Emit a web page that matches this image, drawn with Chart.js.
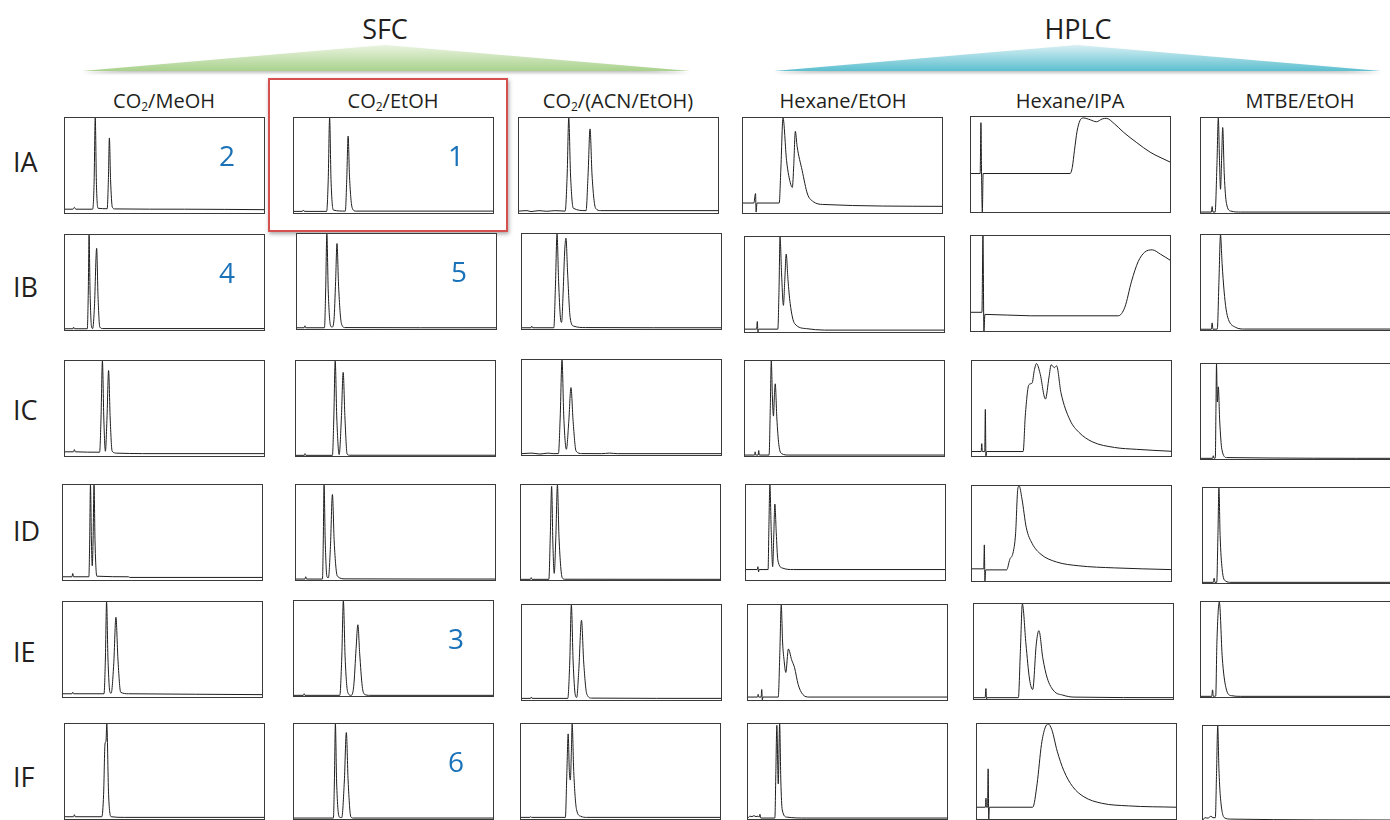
<!DOCTYPE html>
<html>
<head>
<meta charset="utf-8">
<script src="https://cdn.jsdelivr.net/npm/chart.js@4.4.1/dist/chart.umd.min.js"></script>
<style>
  body { margin: 0; background: #fff; width: 1390px; height: 820px; overflow: hidden; position: relative;
         font-family: 'Open Sans', sans-serif; color: #231f20; }
  .panel { position: absolute; width: 201px; height: 97px; border: 1px solid #3a3a3a; box-sizing: border-box; background: #fff; }
  .panel canvas { display: block; }
  .lbl { position: absolute; white-space: nowrap; transform: translate(-50%, -50%); line-height: 1; }
  .grp { font-size: 27px; }
  .col { font-size: 20px; }
  .col sub { font-size: 12px; vertical-align: -3px; line-height: 0; }
  .row { font-size: 27px; transform: translate(0, -50%); }
  .num { font-size: 28px; color: #1a72b9; }
  #redBox { position: absolute; left: 268px; top: 78px; width: 240px; height: 154px; box-sizing: border-box;
            border: 2px solid #d6504f; box-shadow: 1px 2px 4px rgba(0,0,0,0.35); }
  svg { position: absolute; left: 0; top: 0; }
</style>
</head>
<body>
<svg width="1390" height="90">
  <defs>
    <linearGradient id="gGreen" x1="0" y1="0" x2="0" y2="1">
      <stop offset="0" stop-color="#eaf4e0"/>
      <stop offset="1" stop-color="#a9d18c"/>
    </linearGradient>
    <linearGradient id="gBlue" x1="0" y1="0" x2="0" y2="1">
      <stop offset="0" stop-color="#d8f0f4"/>
      <stop offset="1" stop-color="#5cbfcf"/>
    </linearGradient>
    <filter id="shadow" x="-5%" y="-20%" width="110%" height="160%">
      <feDropShadow dx="0" dy="2" stdDeviation="1.5" flood-color="#000" flood-opacity="0.25"/>
    </filter>
  </defs>
  <polygon points="82,71 385,45 690,71" fill="url(#gGreen)" filter="url(#shadow)"/>
  <polygon points="774,71 1077,45 1381,71" fill="url(#gBlue)" filter="url(#shadow)"/>
</svg>
<div id="root"></div>
<script>
'use strict';

// ---- texts ----
const groupTitles = ['SFC', 'HPLC'];
const columnLabels = ['CO<sub>2</sub>/MeOH', 'CO<sub>2</sub>/EtOH', 'CO<sub>2</sub>/(ACN/EtOH)',
                      'Hexane/EtOH', 'Hexane/IPA', 'MTBE/EtOH'];
const rowLabels = ['IA', 'IB', 'IC', 'ID', 'IE', 'IF'];
// ranking numbers: [row, column, label]
const rankLabels = [[0, 0, '2'], [0, 1, '1'], [1, 0, '4'], [1, 1, '5'], [4, 1, '3'], [5, 1, '6']];

// ---- chromatograms: [time %, signal %] ----
const tracesIA = [
  [[0,4],[4,4],[4.7,6],[5.4,4],[13.9,4],[14.6,30],[15.2,100],[15.8,30],[16.6,5],[21.2,4.5],[21.8,35],[22.3,79],[22.9,35],[23.8,6],[25,4.3],[60,4],[100,3.5]],
  [[0,1.7],[4.2,1.7],[4.7,3.2],[5.2,1.7],[16.4,1.7],[17.2,35],[17.9,100],[18.6,35],[19.8,3],[25.8,2],[26.5,35],[27.2,81],[27.9,38],[29.3,5],[31,2],[100,2]],
  [[0,2],[4,2.5],[6,1.5],[10,2.5],[14,1.8],[18,2.5],[23.2,2],[24.2,40],[25,100],[25.9,40],[27.3,5],[33.7,2.5],[34.7,40],[35.7,88.5],[36.7,40],[38.5,5],[41,2.5],[100,2.5]],
  [[0,10.5],[5.5,10.5],[6.0,18],[6.3,20.5],[6.6,1],[7.0,10.5],[18.2,10.5],[19.0,45],[20.1,100],[21.9,55],[24,30],[24.8,27],[25.5,50],[26.3,86],[27.2,70],[29.7,45],[32.4,20],[35.3,12],[40,9],[100,7]],
  [[0,40.5],[4.6,40.5],[5.0,94],[5.3,40],[5.7,0],[6.1,40.5],[49.8,40.5],[50.9,47],[52,65],[53.3,85],[54.7,96],[56.5,99],[60,97],[63,95],[66,98],[68,98.6],[72,93],[76.6,84],[83.3,73],[90,63],[100,52.6]],
  [[0,1],[5.2,1],[5.6,6.8],[6.0,1],[7.1,1],[8.0,50],[8.7,100],[9.3,55],[9.8,25],[10.4,60],[10.9,90],[11.7,40],[12.8,10],[15,2],[20,1],[100,1]]
];
const tracesIB = [
  [[0,1.3],[4,1.3],[4.3,3],[4.7,1.3],[11.2,1.3],[11.7,40],[12.1,100],[12.6,40],[13.3,4],[13.9,1.5],[14.8,25],[15.9,86],[16.6,35],[17.5,3],[19,1.5],[100,1.5]],
  [[0,1.3],[3.6,1.3],[4,3.4],[4.4,1.3],[13.8,1.3],[14.4,40],[15,100],[15.7,40],[16.8,4],[17.6,2],[18.6,10],[19.4,50],[20.1,90],[20.9,45],[22.3,6],[24,1.5],[100,1.3]],
  [[0,1.3],[4.5,1.3],[4.9,3],[5.3,1.3],[16,1.3],[16.8,45],[17.6,100],[18.4,50],[19.3,12],[19.9,7],[20.7,40],[21.4,80],[22.1,95.6],[22.9,60],[24.2,12],[26,3],[32,1.5],[100,1.3]],
  [[0,3],[5.8,3],[6.2,11],[6.5,0],[6.9,3],[16.5,3],[17.1,45],[17.6,100],[18.4,60],[19.3,28],[20,55],[20.7,82],[21.6,55],[22.7,30],[24.9,9],[31,3.5],[40,2],[100,2]],
  [[0,19.7],[5.5,19.7],[6.0,100],[6.5,0],[7.0,17.5],[30,16],[74,16],[77.3,25],[80.7,52.5],[84,73],[87.3,83],[91.1,85.4],[95.1,81],[100,74.6]],
  [[0,0.8],[5.2,0.8],[5.6,7.5],[6.0,0.8],[8.2,1],[9.0,50],[9.8,100],[10.6,70],[11.6,41],[12.6,22],[13.8,11],[17.2,3],[22,1],[100,1]]
];
const tracesIC = [
  [[0,4.4],[4.3,4.4],[4.7,6.8],[5.2,4.4],[17.4,4],[18.1,40],[18.8,100],[19.5,40],[20.3,5],[21.1,40],[21.9,90],[22.7,40],[23.7,5],[26,3],[39,2.5],[100,2.5]],
  [[0,0.7],[4.2,0.7],[4.5,2.5],[4.9,0.7],[18.3,0.7],[19,40],[19.7,100],[20.5,40],[21.7,1.5],[22.8,40],[23.7,88],[24.6,40],[25.7,2],[27,0.8],[100,0.8]],
  [[0,1.4],[5,2],[9,1],[13,2],[16,1.4],[18.3,1.5],[19.2,40],[20.1,100],[21,40],[22.3,6],[23.5,35],[24.6,71],[25.7,35],[27.2,4],[30,1.5],[40,1.4],[44,2],[48,1.4],[100,1.4]],
  [[0,1],[4.8,1],[5.1,4.4],[5.4,1],[6.6,1],[6.9,5.8],[7.2,1],[12.1,1],[12.7,50],[13.2,100],[13.8,60],[14.3,42],[14.8,65],[15.2,76],[16,40],[17,12],[18.5,2.4],[22,1],[100,1]],
  [[0,4.7],[4.6,4.7],[4.9,13],[5.2,4.7],[6.4,4.7],[6.7,49],[7.0,0],[7.4,4.7],[25.7,4.7],[26.8,43],[28.6,75],[30.2,76.7],[31.3,90],[32.4,97.3],[34.2,87],[36.9,60],[38.7,83],[39.8,96],[41.4,93],[42.5,95],[44.7,66.7],[49.2,38],[53.7,25],[60.4,15],[71.6,9],[82.8,7],[100,5]],
  [[0,0.7],[5.8,0.7],[6.2,3.4],[6.6,0.7],[7.2,1],[7.5,50],[7.8,100],[8.2,60],[8.7,76],[9.4,40],[10.5,10],[12.9,1.5],[100,0.7]]
];
const tracesID = [
  [[0,3.4],[4.5,3.4],[4.9,6.8],[5.3,3.4],[13,3.4],[13.4,40],[13.8,100],[14.3,40],[14.7,15],[15.1,40],[15.6,100],[16.1,40],[17,4],[33,3.4],[33.5,2.7],[100,2.7]],
  [[0,1],[4.5,1],[4.9,3.4],[5.3,1],[13.3,1],[13.7,40],[14.1,100],[14.7,40],[15.6,3],[16.3,2.5],[17.3,35],[18.3,90],[19.2,40],[20.8,4],[24.6,1.2],[100,1]],
  [[0,0.7],[4.7,0.7],[5.1,2.5],[5.5,0.7],[14,0.7],[14.7,45],[15.4,98.6],[16.0,40],[16.7,7],[17.5,45],[18.3,100],[19.1,45],[20.8,2],[22,0.8],[100,0.7]],
  [[0,11],[5.6,11],[6,14],[6.3,8.5],[6.6,11],[11.1,11],[11.5,55],[12,100],[12.7,50],[13.4,14],[14,50],[14.5,80],[15.2,50],[16,21],[18.3,12.6],[23.8,11],[100,11]],
  [[0,12.8],[5.9,12.8],[6.2,38],[6.5,0],[6.9,11.7],[17.4,11.7],[19,22.8],[20.6,29.5],[21.9,49.7],[23,96.6],[23.7,100],[25.1,86.6],[27.3,56],[30.2,39.6],[34.7,28],[42.5,20],[53.7,16],[71.6,13.8],[100,12]],
  [[0,0.7],[5.2,0.7],[5.6,5],[6.0,0.7],[6.9,0.7],[7.5,50],[8,100],[8.6,50],[9.6,15],[11.4,2],[14,0.7],[100,0.7]]
];
const tracesIE = [
  [[0,3.4],[4.5,3.4],[4.9,5],[5.3,3.4],[20.6,3.4],[21.3,40],[21.9,100],[22.6,40],[23.6,5],[24.2,4],[25.5,35],[26.6,84],[27.6,40],[29,5],[33,3.4],[100,2.5]],
  [[0,0.7],[4.7,0.7],[5.1,2.4],[5.5,0.7],[23,0.7],[24,40],[24.8,100],[25.7,40],[27,4],[28.6,0.7],[30,10],[31.2,50],[32.1,75],[33,45],[34.3,10],[35.3,2],[38,0.7],[100,0.7]],
  [[0,1.7],[4.3,1.7],[4.7,3.2],[5.1,1.7],[23,1.7],[24,40],[24.8,100],[25.7,40],[26.8,5],[27.5,2.7],[28.5,30],[29.9,84],[31,40],[32.6,6],[35,2],[100,1.7]],
  [[0,3.1],[4.8,3.1],[5.1,6],[5.4,3.1],[6.6,3.1],[6.9,11],[7.2,0],[7.5,3.1],[15.2,3.1],[16,50],[16.7,100],[17.4,60],[18.1,42.5],[19,29],[20.3,53.7],[21.9,42.5],[23.4,34],[25.2,16.4],[27.5,5.9],[30.8,3.1],[100,3.1]],
  [[0,1.4],[5.6,1.4],[6,11],[6.3,0],[6.6,1.4],[22.3,1.4],[23.3,50],[24.3,100],[26.1,58],[27.9,21],[29.5,10],[31.3,58],[32.6,72],[34.6,42.8],[36.8,22],[40.2,8.3],[44.6,4.1],[50.2,2],[100,1.4]],
  [[0,0.7],[5.4,0.7],[5.8,7.5],[6.2,0.7],[7.4,1],[8,58],[9.2,100],[10.7,41],[12.5,10],[15.2,1.4],[20,0.7],[100,0.7]]
];
const tracesIF = [
  [[0,2.4],[4.3,2.4],[4.7,4.5],[5.1,2.4],[18.5,2.4],[19.4,26],[20.1,79],[20.6,82],[21,100],[21.9,26],[23.2,2.4],[30,1.7],[100,1.7]],
  [[0,1],[19.8,1],[20.3,40],[20.8,100],[21.4,40],[22.8,2],[24,1.5],[25.3,40],[26.3,91],[27.2,40],[28.6,2],[30,1],[100,1]],
  [[0,1.7],[4.5,1.7],[4.9,2.5],[5.3,1.7],[22.3,1.7],[23,45],[23.7,89.6],[24.3,50],[24.8,41],[25.3,70],[25.7,100],[26.5,50],[27.9,10],[30.1,2.8],[33,1.7],[100,1.7]],
  [[0,1],[1,3],[2,2.5],[3,3.5],[4,2.5],[5,3],[5.6,2],[6,5],[6.4,1],[13.5,1],[14,50],[14.5,98.6],[15.2,37],[15.9,100],[16.5,40],[17.2,9.7],[19.5,2],[29.5,1],[100,1]],
  [[0,12.4],[4.2,12.4],[4.5,22],[4.8,12.4],[5.3,12.4],[5.6,52.8],[5.9,0],[6.2,12.4],[28,12.4],[30.2,37],[32.4,78.6],[34.2,95.9],[35.8,100],[37.6,94],[40.3,71.4],[43.6,51],[48.1,34],[53.7,23.4],[62.6,16.6],[76.1,13.8],[100,12.4]],
  [[0,1],[1,3.5],[2.5,3],[4,5],[5,3.5],[6.2,3.5],[6.8,50],[7.4,100],[8,55],[8.7,26.5],[10.7,3.5],[14,2],[100,1]]
];
const allTraces = [tracesIA, tracesIB, tracesIC, tracesID, tracesIE, tracesIF];

// ---- layout (px) ----
const panelLeft = [
  [64, 293, 518, 742, 970, 1200],
  [64, 296, 521, 744, 970, 1200],
  [64, 295, 521, 744, 971, 1200],
  [62, 295, 520, 745, 971, 1202],
  [62, 293, 521, 747, 973, 1200],
  [64, 293, 520, 747, 976, 1202]
];
const panelTop = [
  [117, 117, 117, 117, 116, 117],
  [234, 233, 233, 236, 235, 234],
  [360, 360, 359, 360, 360, 363],
  [484, 484, 484, 484, 485, 487],
  [601, 600, 604, 604, 603, 601],
  [723, 723, 723, 723, 723, 725]
];
const PW = 201, PH = 97;
const groupPos = [[385, 28], [1078, 28]];
const colCenters = [164, 393, 618, 843, 1070, 1300];
const rowLabelY = [161, 286, 409, 530, 651, 776];

const root = document.getElementById('root');

function addLabel(html, cls, x, y) {
  const d = document.createElement('div');
  d.className = 'lbl ' + cls;
  d.innerHTML = html;
  d.style.left = x + 'px';
  d.style.top = y + 'px';
  root.appendChild(d);
  return d;
}

groupTitles.forEach((t, i) => addLabel(t, 'grp', groupPos[i][0], groupPos[i][1]));
columnLabels.forEach((t, i) => addLabel(t, 'col', colCenters[i], 101));
rowLabels.forEach((t, i) => addLabel(t, 'row', 13, rowLabelY[i]));

// highlight of the best condition
const red = document.createElement('div');
red.id = 'redBox';
root.appendChild(red);

function drawPanel(r, c, pts) {
  const box = document.createElement('div');
  box.className = 'panel';
  box.style.left = panelLeft[r][c] + 'px';
  box.style.top = panelTop[r][c] + 'px';
  const cv = document.createElement('canvas');
  cv.width = PW - 2; cv.height = PH - 2;
  cv.style.width = (PW - 2) + 'px'; cv.style.height = (PH - 2) + 'px';
  box.appendChild(cv);
  root.appendChild(box);

  new Chart(cv.getContext('2d'), {
    type: 'scatter',
    data: {
      datasets: [{
        data: pts.map(p => ({ x: p[0], y: p[1] })),
        showLine: true,
        borderColor: '#1e1e1e',
        borderWidth: 1,
        pointRadius: 0,
        cubicInterpolationMode: 'monotone'
      }]
    },
    options: {
      responsive: false,
      animation: false,
      events: [],
      layout: { padding: 0 },
      plugins: { legend: { display: false }, tooltip: { enabled: false } },
      scales: {
        x: { type: 'linear', min: 0, max: 100, display: false },
        y: { type: 'linear', min: 0, max: 100, display: false }
      }
    }
  });
}

allTraces.forEach((row, r) => row.forEach((pts, c) => drawPanel(r, c, pts)));

// blue ranking numbers, placed in the upper right of their panels
rankLabels.forEach(([r, c, t]) => {
  addLabel(t, 'num', panelLeft[r][c] + 163, panelTop[r][c] + 38);
});
</script>
</body>
</html>
